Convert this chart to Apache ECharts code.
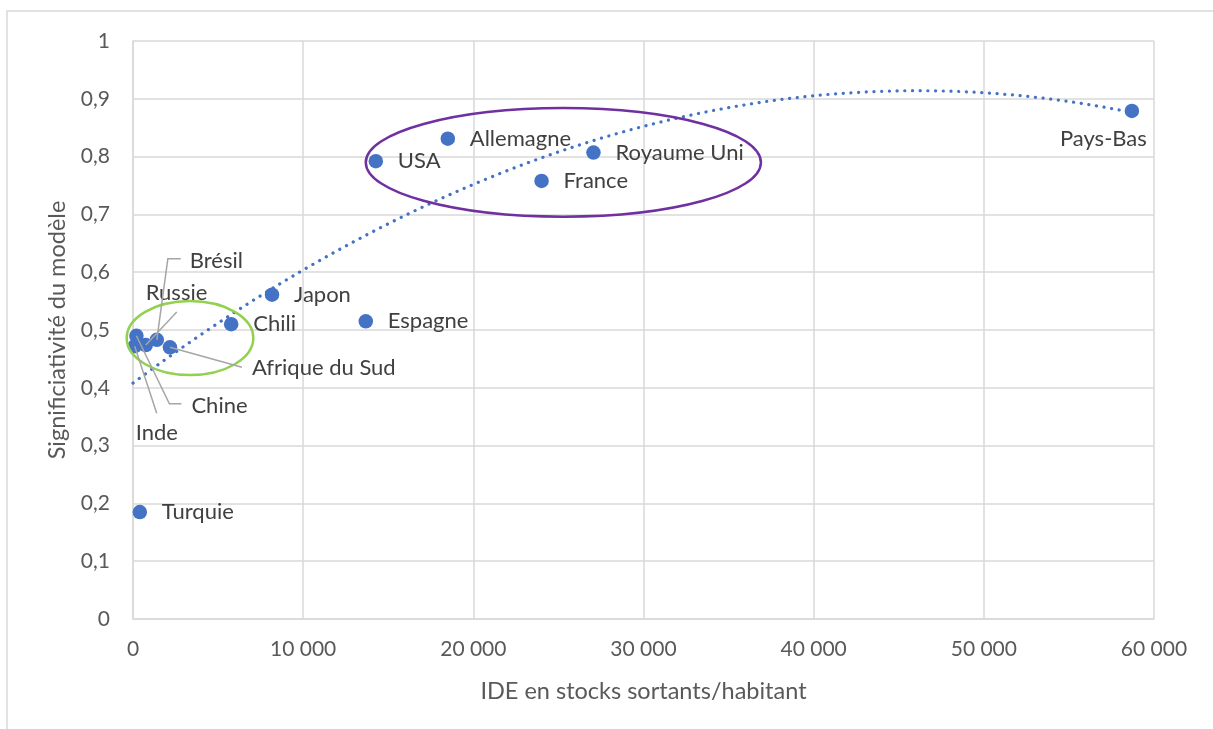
<!DOCTYPE html>
<html>
<head>
<meta charset="utf-8">
<script src="https://cdn.jsdelivr.net/npm/echarts@6/dist/echarts.min.js"></script>
<style>
  html, body { margin: 0; padding: 0; background: #ffffff; }
  #chart { width: 1213px; height: 729px; }
</style>
</head>
<body>
<div id="chart"></div>
<script>
// ---- Data ----
const countries    = ['Turquie', 'Inde', 'Chine', 'Russie', 'Brésil', 'Afrique du Sud', 'Chili', 'Japon', 'Espagne', 'USA', 'Allemagne', 'France', 'Royaume Uni', 'Pays-Bas'];
const ideStock     = [400, 100, 200, 750, 1400, 2170, 5770, 8170, 13680, 14270, 18500, 24010, 27060, 58700];
const significance = [0.185, 0.472, 0.490, 0.474, 0.483, 0.470, 0.510, 0.561, 0.515, 0.792, 0.831, 0.758, 0.807, 0.879];

const xTicks = [0, 10000, 20000, 30000, 40000, 50000, 60000];
const yTicks = [0, 0.1, 0.2, 0.3, 0.4, 0.5, 0.6, 0.7, 0.8, 0.9, 1];

const xTitle = 'IDE en stocks sortants/habitant';
const yTitle = 'Significiativité du modèle';

// Highlight ellipses in data units: [centerX, centerY, radiusX, radiusY]
const greenGroup  = [3350, 0.486, 3720, 0.064];
const purpleGroup = [25290, 0.790, 11610, 0.094];

// ---- Layout / style (not data) ----
const SYMBOL = 14.5;
const LABEL_DIST = 14.75;
const BLUE = '#4472C4';
const TXT = '#595959';
const FONT = 'Lato';

// label offsets (px) & leader-line vertices relative to label left-middle anchor
const labelLayoutByName = {
  'Brésil':         { offset: [11, -79], leader: [[-9, -2], [-22, -2]] },
  'Russie':         { offset: [-22, -52], leader: [[31, 19]] },
  'Afrique du Sud': { offset: [60, 21],  leader: [[-10, -1]] },
  'Chine':          { offset: [33, 70],  leader: [[-10, -2], [-22, -2]] },
  'Inde':           { offset: [-21, 87], leader: [[21, -20]] },
  'Pays-Bas':       { position: 'bottom', offset: [-28.5, -1] }
};

// ---- Quadratic least-squares trendline computed from the data ----
function polyFit2(xs, ys) {
  let n = xs.length, s = [0,0,0,0,0], t = [0,0,0];
  for (let i = 0; i < n; i++) {
    const x = xs[i] / 10000, y = ys[i];
    let p = 1;
    for (let k = 0; k <= 4; k++) { s[k] += p; if (k <= 2) t[k] += p * y; p *= x; }
  }
  const A = [[s[0], s[1], s[2], t[0]], [s[1], s[2], s[3], t[1]], [s[2], s[3], s[4], t[2]]];
  for (let i = 0; i < 3; i++) {
    let m = i;
    for (let r = i + 1; r < 3; r++) if (Math.abs(A[r][i]) > Math.abs(A[m][i])) m = r;
    [A[i], A[m]] = [A[m], A[i]];
    for (let r = 0; r < 3; r++) {
      if (r === i) continue;
      const f = A[r][i] / A[i][i];
      for (let c = i; c < 4; c++) A[r][c] -= f * A[i][c];
    }
  }
  const c = [A[0][3] / A[0][0], A[1][3] / A[1][1], A[2][3] / A[2][2]];
  return x => { const u = x / 10000; return c[0] + c[1] * u + c[2] * u * u; };
}
const trend = polyFit2(ideStock, significance);
const xMaxData = Math.max.apply(null, ideStock);
const trendData = [];
for (let i = 0; i <= 120; i++) { const x = xMaxData * i / 120; trendData.push([x, trend(x)]); }

// ---- Build chart ----
const chart = echarts.init(document.getElementById('chart'));

const scatterData = countries.map((name, i) => {
  const item = { name: name, value: [ideStock[i], significance[i]] };
  const lay = labelLayoutByName[name];
  if (lay) {
    item.label = { position: lay.position || 'right', offset: lay.offset };
    if (lay.position === 'bottom') item.label.distance = 11;
  }
  return item;
});

const fmtX = v => String(v).replace(/\B(?=(\d{3})+(?!\d))/g, ' ');
const fmtY = v => (Math.round(v * 10) / 10).toString().replace('.', ',');

chart.setOption({
  animation: false,
  backgroundColor: '#ffffff',
  textStyle: { fontFamily: FONT },
  grid: { left: 133, top: 41, right: 59, bottom: 110, containLabel: false },
  xAxis: {
    type: 'value', min: xTicks[0], max: xTicks[xTicks.length - 1], interval: xTicks[1] - xTicks[0],
    name: xTitle, nameLocation: 'middle', nameGap: 60,
    nameTextStyle: { fontSize: 23.5, color: TXT, fontFamily: FONT },
    axisLine: { show: true, lineStyle: { color: '#d9d9d9', width: 1.5 } },
    axisTick: { show: false },
    axisLabel: { color: TXT, fontSize: 21, margin: 20, formatter: fmtX, fontFamily: FONT },
    splitLine: { show: true, lineStyle: { color: '#d9d9d9', width: 1.5 } }
  },
  yAxis: {
    type: 'value', min: yTicks[0], max: yTicks[yTicks.length - 1], interval: 0.1,
    name: yTitle, nameLocation: 'middle', nameGap: 64, nameRotate: 90,
    nameTextStyle: { fontSize: 23.5, color: TXT, fontFamily: FONT },
    axisLine: { show: true, lineStyle: { color: '#d9d9d9', width: 1.5 } },
    axisTick: { show: false },
    axisLabel: { color: TXT, fontSize: 21, margin: 23, formatter: fmtY, fontFamily: FONT },
    splitLine: { show: true, lineStyle: { color: '#d9d9d9', width: 1.5 } }
  },
  series: [
    {
      name: 'Tendance', type: 'line', data: trendData, showSymbol: false, silent: true, z: 2,
      lineStyle: { color: BLUE, width: 3.2, type: [0.1, 7.6], cap: 'round' }
    },
    {
      name: 'Pays', type: 'scatter', data: scatterData, symbolSize: SYMBOL, z: 3,
      itemStyle: { color: BLUE, opacity: 1 },
      label: {
        show: true, position: 'right', distance: LABEL_DIST, formatter: '{b}',
        fontSize: 22, color: '#404040', fontFamily: FONT
      }
    }
  ]
});

// ---- Annotations placed through the axes' scales ----
function toPx(x, y) { return chart.convertToPixel({ gridIndex: 0 }, [x, y]); }
function ellipseFrom(g, color) {
  const c = toPx(g[0], g[1]);
  const e = toPx(g[0] + g[2], g[1] + g[3]);
  return { type: 'ellipse', z: 10, silent: true,
    shape: { cx: c[0], cy: c[1], rx: Math.abs(e[0] - c[0]), ry: Math.abs(e[1] - c[1]) },
    style: { fill: 'none', stroke: color, lineWidth: 2.5 } };
}
const graphics = [
  { type: 'rect', z: 0, silent: true, shape: { x: 7, y: 11, width: 1212, height: 740 },
    style: { fill: 'none', stroke: '#d9d9d9', lineWidth: 1.5 } },
  ellipseFrom(greenGroup, '#92D050'),
  ellipseFrom(purpleGroup, '#7030A0')
];
countries.forEach((name, i) => {
  const lay = labelLayoutByName[name];
  if (!lay || !lay.leader) return;
  const p = toPx(ideStock[i], significance[i]);
  const ax = p[0] + SYMBOL / 2 + LABEL_DIST + lay.offset[0];
  const ay = p[1] + lay.offset[1];
  const pts = lay.leader.map(q => [ax + q[0], ay + q[1]]);
  pts.push([p[0], p[1]]);
  graphics.push({ type: 'polyline', z: 11, silent: true, shape: { points: pts },
    style: { stroke: '#a6a6a6', lineWidth: 1.5, fill: 'none' } });
});
chart.setOption({ graphic: graphics });
</script>
</body>
</html>
